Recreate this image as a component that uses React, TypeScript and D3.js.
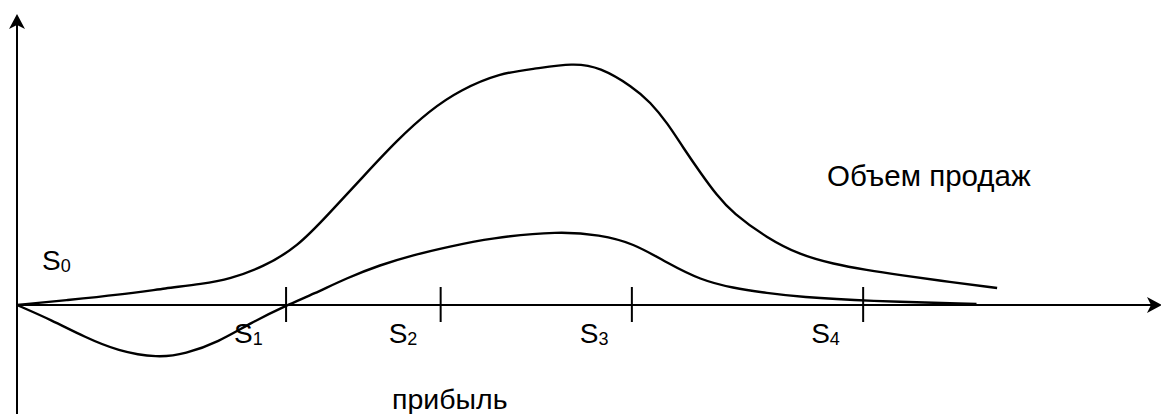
import React from 'react';
import { scaleLinear, line, curveBasis } from 'd3';

// x: stage of the product life cycle (0..100), y: relative value (0 = axis)
const salesT = [0, 4.45, 8.8, 13.2, 16.1, 18.6, 21.5, 24.5, 27.3, 30.2, 33.2, 36.1, 38.7, 42.2, 45.1, 48.6, 50.9, 53.8, 55.3, 56.8, 58.2, 59.7, 61.1, 62.5, 65.5, 68.4, 71.3, 74.2, 77.1, 81.5, 85.6];
const salesV = [0, 0.5, 1.0, 1.7, 2.1, 2.6, 3.8, 5.8, 9.2, 12.8, 16.5, 19.5, 21.5, 23.2, 23.6, 24.2, 23.8, 21.8, 20.3, 18.2, 15.7, 13.2, 11.0, 9.2, 6.7, 5.0, 4.1, 3.5, 3.0, 2.3, 1.7];

const profitT = [0, 3.0, 5.9, 8.8, 12.3, 14.7, 17.6, 20.4, 23.6, 25.9, 28.8, 31.7, 34.6, 37.6, 41.3, 47.4, 50.9, 53.8, 56.8, 59.7, 62.5, 65.5, 68.4, 74.2, 83.8];
const profitV = [0, -1.5, -3.2, -4.6, -5.3, -4.9, -3.7, -1.8, 0, 1.1, 2.7, 4.0, 5.0, 5.8, 6.7, 7.4, 7.0, 6.2, 4.2, 2.5, 1.7, 1.2, 0.8, 0.4, 0.1];

const stageTicks = [23.5, 37.0, 53.7, 73.9];
const stageLabels = ['1', '2', '3', '4'];

const W = 1161;
const H = 414;
const font = '"Liberation Sans", Arial, sans-serif';

const App = () => {
  const x = scaleLinear().domain([0, 100]).range([17, 1162]);
  const y = scaleLinear().domain([-10.9, 29.1]).range([414, 14]);

  const path = line<number[]>()
    .x(d => x(d[0]))
    .y(d => y(d[1]))
    .curve(curveBasis);

  const sales = salesT.map((t, i) => [t, salesV[i]]);
  const profit = profitT.map((t, i) => [t, profitV[i]]);

  const x0 = x(0);
  const y0 = y(0);
  const yTop = y(29.1);
  const xEnd = x(100);

  return (
    <div style={{ position: 'fixed', left: 0, top: 0 }}>
      <svg width={W} height={H} style={{ display: 'block', background: '#fff' }}>
        {/* axes */}
        <line x1={x0} y1={H} x2={x0} y2={yTop + 8} stroke="#000" strokeWidth={2} />
        <path d={`M${x0},${yTop} L${x0 - 8},${yTop + 15} L${x0},${yTop + 11} L${x0 + 8},${yTop + 15} Z`} fill="#000" />
        <line x1={x0} y1={y0} x2={xEnd - 8} y2={y0} stroke="#000" strokeWidth={2} />
        <path d={`M${xEnd},${y0} L${xEnd - 15},${y0 - 8} L${xEnd - 11},${y0} L${xEnd - 15},${y0 + 8} Z`} fill="#000" />

        {/* stage ticks */}
        {stageTicks.map((t, i) => (
          <g key={i}>
            <line x1={x(t)} y1={y0 - 18} x2={x(t)} y2={y0 + 17} stroke="#000" strokeWidth={2} />
            <text x={x(t) - 52} y={y0 + 38} fontFamily={font} fontSize={28} fill="#000">
              S<tspan fontSize={18} dy={2}>{stageLabels[i]}</tspan>
            </text>
          </g>
        ))}

        {/* curves */}
        <path d={path(sales) || ''} fill="none" stroke="#000" strokeWidth={2.4} />
        <path d={path(profit) || ''} fill="none" stroke="#000" strokeWidth={2.4} />

        {/* labels */}
        <text x={x0 + 25} y={y0 - 35} fontFamily={font} fontSize={28} fill="#000">
          S<tspan fontSize={18} dy={2}>0</tspan>
        </text>
        <text x={827} y={186} fontFamily={font} fontSize={29.5} fill="#000">Объем продаж</text>
        <text x={392} y={409} fontFamily={font} fontSize={28.5} fill="#000">прибыль</text>
      </svg>
    </div>
  );
};

export default App;
